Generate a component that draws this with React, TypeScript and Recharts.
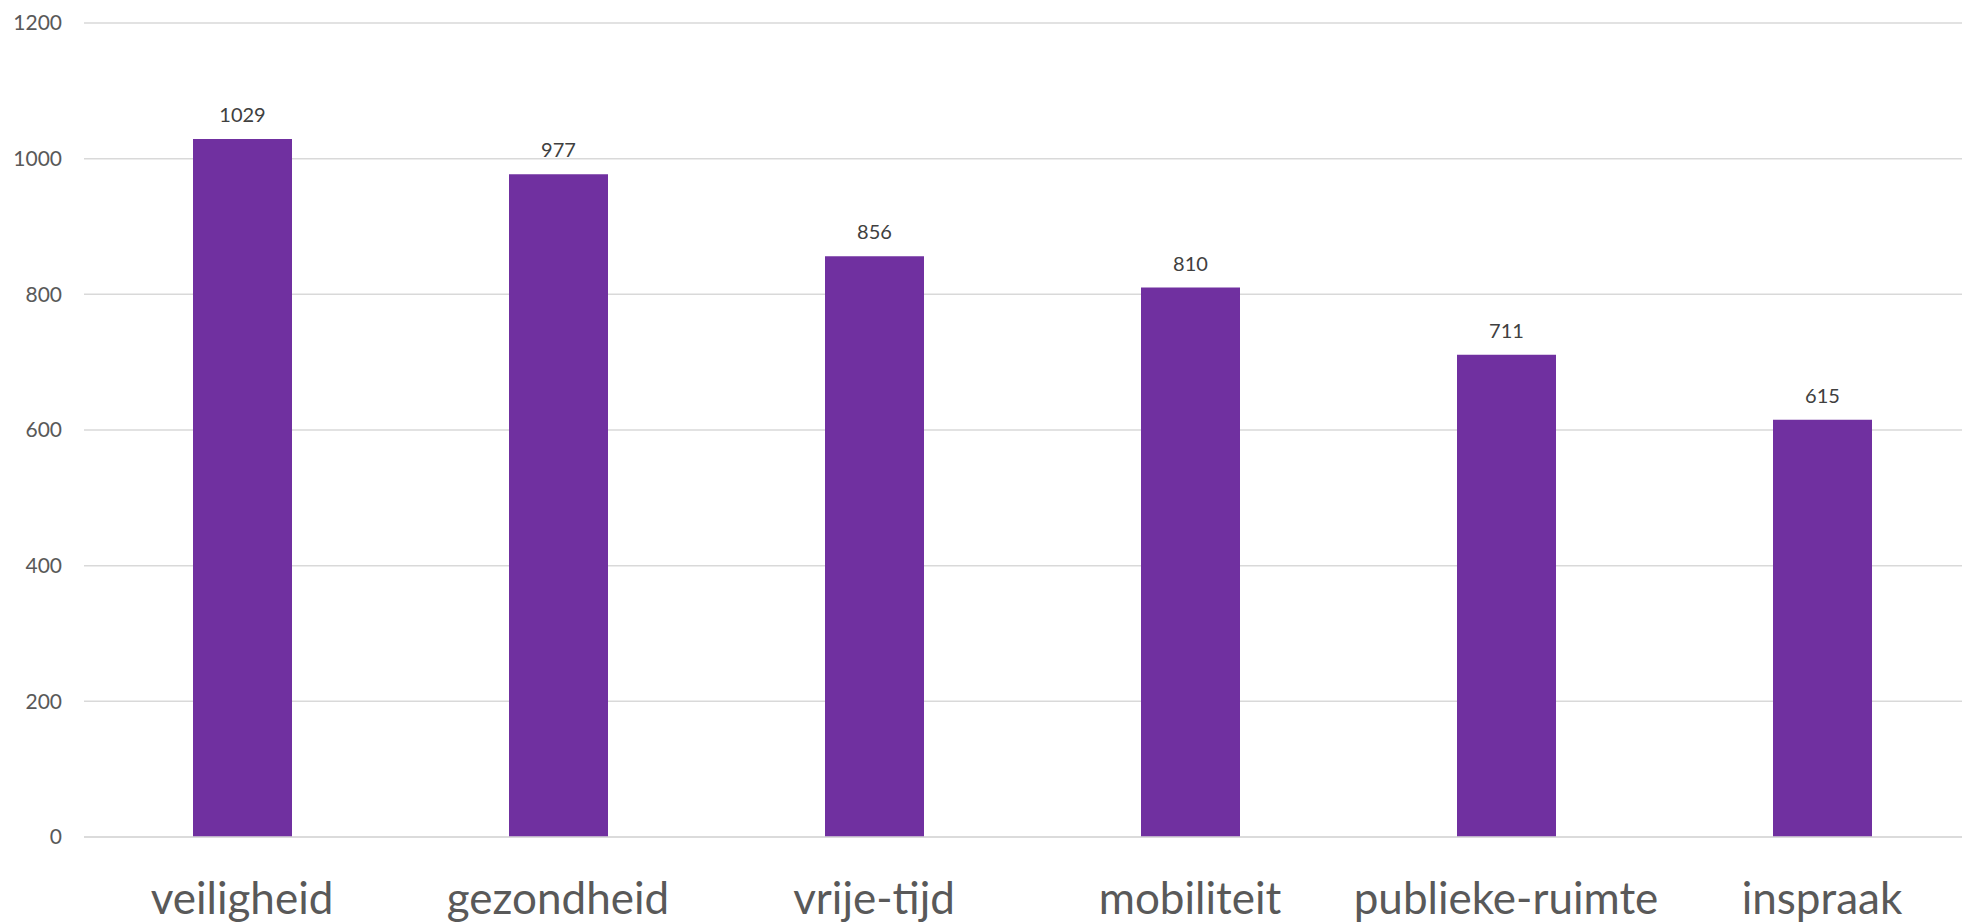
import { BarChart, Bar, XAxis, YAxis, CartesianGrid, LabelList } from 'recharts';

const categories = ['veiligheid', 'gezondheid', 'vrije-tijd', 'mobiliteit', 'publieke-ruimte', 'inspraak'];
const values = [1029, 977, 856, 810, 711, 615];
const yTicks = [0, 200, 400, 600, 800, 1000, 1200];

const data = categories.map((name, i) => ({ name, value: values[i] }));

const font = 'Lato, "Open Sans", sans-serif';

export default function App(): JSX.Element {
  return (
    <div
      style={{
        position: 'fixed',
        top: 0,
        left: 0,
        width: 1962,
        height: 922,
        overflow: 'hidden',
        background: '#fff',
      }}
    >
      <BarChart
        width={1980}
        height={922}
        data={data}
        margin={{ top: 23, right: 0, left: 0, bottom: 0 }}
        style={{ fontFamily: font }}
      >
        <CartesianGrid vertical={false} stroke="#D9D9D9" strokeWidth={1.5} />
        <XAxis
          dataKey="name"
          height={85}
          axisLine={{ stroke: '#D9D9D9', strokeWidth: 1.5 }}
          tickLine={false}
          tickSize={0}
          tickMargin={46}
          interval={0}
          tick={{ fill: '#595959', fontSize: 44, fontFamily: font }}
        />
        <YAxis
          width={84}
          domain={[0, 1200]}
          ticks={yTicks}
          axisLine={false}
          tickLine={false}
          tickSize={0}
          tickMargin={22}
          tick={{ fill: '#595959', fontSize: 21, fontFamily: font }}
        />
        <Bar dataKey="value" fill="#7030A0" barSize={99} isAnimationActive={false}>
          <LabelList
            dataKey="value"
            position="top"
            offset={17}
            fill="#404040"
            fontSize={20}
            fontFamily={font}
          />
        </Bar>
      </BarChart>
    </div>
  );
}
